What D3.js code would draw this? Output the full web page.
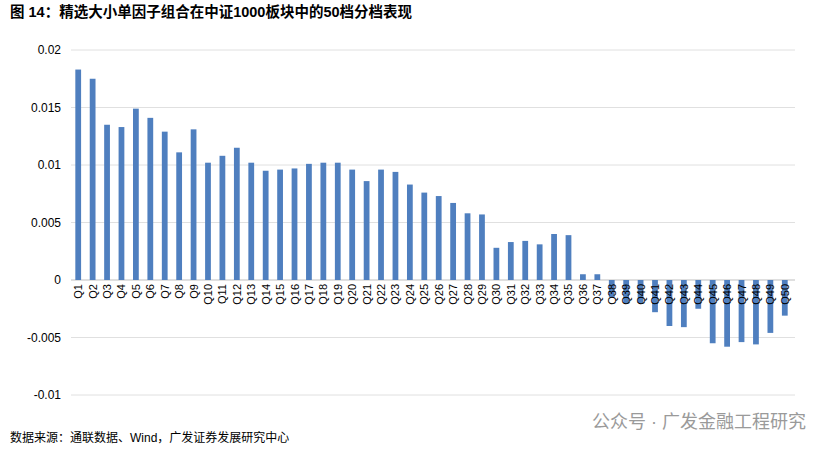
<!DOCTYPE html>
<html><head><meta charset="utf-8">
<script src="https://cdn.jsdelivr.net/npm/d3@7"></script>
<style>body{margin:0;background:#fff}</style></head>
<body><svg id="c" width="834" height="454"></svg>
<script>
const categories = d3.range(1,51).map(i=>"Q"+i);
const values = [0.0183,0.0175,0.0135,0.0133,0.0149,0.0141,0.0129,0.0111,0.0131,0.0102,
0.0108,0.0115,0.0102,0.0095,0.0096,0.0097,0.0101,0.0102,0.0102,0.0096,
0.0086,0.0096,0.0094,0.0083,0.0076,0.0073,0.0067,0.0058,0.0057,0.0028,
0.0033,0.0034,0.0031,0.0040,0.0039,0.0005,0.0005,-0.0015,-0.0020,-0.0020,
-0.0028,-0.0040,-0.0041,-0.0025,-0.0055,-0.0058,-0.0054,-0.0056,-0.0046,-0.0031];
const yTicks = [0.02,0.015,0.01,0.005,0,-0.005,-0.01];
const yTickLabels = ["0.02","0.015","0.01","0.005","0","-0.005","-0.01"];
const title = "图  14：精选大小单因子组合在中证1000板块中的50档分档表现";
const source = "数据来源：通联数据、Wind，广发证券发展研究中心";
const watermark = "公众号 · 广发金融工程研究";

const svg = d3.select("#c");
const font = "Arial, 'Liberation Sans', 'Noto Sans CJK SC', sans-serif";
const x = d3.scaleBand().domain(categories).range([71,792]).paddingInner(0.6).paddingOuter(0.3);
const y = d3.scaleLinear().domain([-0.01,0.02]).range([395,50]);

svg.append("text").attr("x",10).attr("y",17).attr("font-family",font).attr("font-size",14.5)
  .attr("font-weight","bold").attr("fill","#000").text(title);

svg.append("g").selectAll("line").data(yTicks).join("line")
  .attr("x1",71).attr("x2",795).attr("y1",d=>y(d)).attr("y2",d=>y(d))
  .attr("stroke",d=>d===0?"#bfbfbf":"#e0e0e0").attr("stroke-width",1);
svg.append("g").selectAll("text").data(yTicks).join("text")
  .attr("x",61).attr("y",d=>y(d)+4).attr("text-anchor","end").attr("font-family",font)
  .attr("font-size",12).attr("fill","#000").text((d,i)=>yTickLabels[i]);

svg.append("g").selectAll("rect").data(values).join("rect")
  .attr("x",(d,i)=>x(categories[i])).attr("width",x.bandwidth())
  .attr("y",d=>y(Math.max(0,d))).attr("height",d=>Math.abs(y(d)-y(0)))
  .attr("fill","#4f7fbf");

svg.append("g").selectAll("text").data(categories).join("text")
  .attr("transform",d=>`translate(${x(d)+x.bandwidth()/2+4},${y(0)+4}) rotate(-90)`)
  .attr("text-anchor","end").attr("font-family",font).attr("font-size",11).attr("fill","#000").text(d=>d);

svg.append("text").attr("x",10).attr("y",442).attr("font-family",font).attr("font-size",12).attr("fill","#000").text(source);
svg.append("text").attr("x",806).attr("y",428).attr("text-anchor","end").attr("font-family",font)
  .attr("font-size",18).attr("fill","#9a9a9a").text(watermark);
</script></body></html>
